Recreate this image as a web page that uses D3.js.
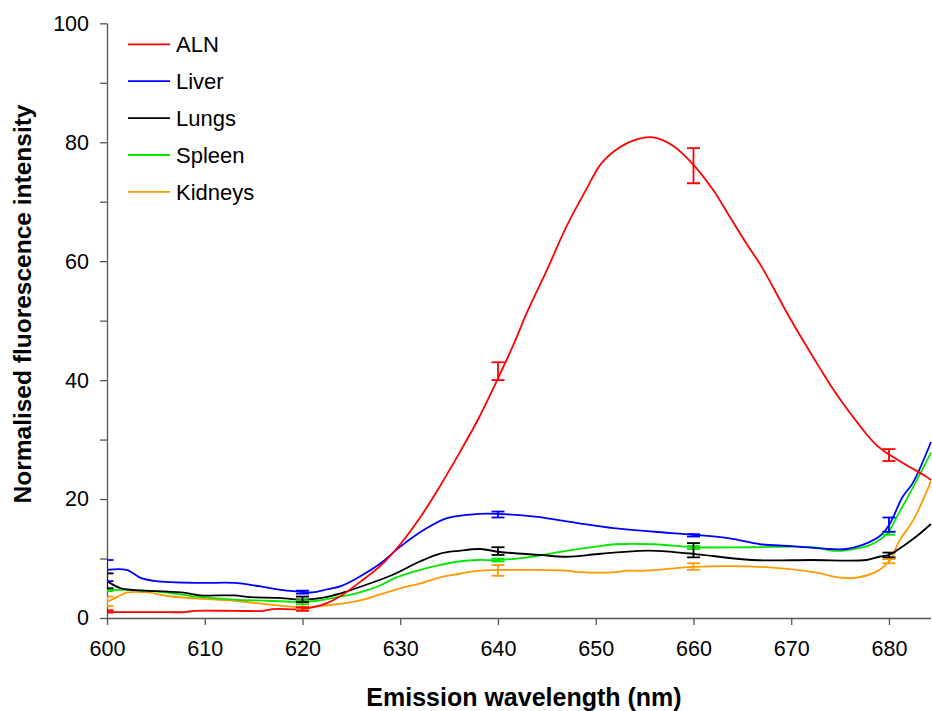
<!DOCTYPE html>
<html><head><meta charset="utf-8">
<script src="https://cdn.jsdelivr.net/npm/d3@7"></script>
<style>body{margin:0;background:#fff}svg{display:block}</style>
</head><body>
<svg id="chart" width="932" height="711"></svg>
<script>
const seriesNames = ["ALN","Liver","Lungs","Spleen","Kidneys"];
const seriesColors = ["#ff0000","#0000ff","#000000","#00e600","#ff9900"];
const xTicks = [600,610,620,630,640,650,660,670,680];
const yTicks = [0,20,40,60,80,100];

const alnData = [[600,1],[602,1],[605,1],[608,1],[609,1.2],[613,1.2],[616,1.2],[617,1.5],[620,1.5],[622,2.2],[624,3.8],[626,6.2],[628,8.8],[630,12.4],[632,16.8],[634,22],[636,27.6],[638,33.5],[640,40.3],[641.6,46],[643,51.5],[645,58.5],[647,65.8],[649,72],[650.6,76.5],[652.5,79.2],[654.2,80.5],[655.9,80.8],[657.9,79.4],[660,76.2],[662,72],[663.7,67.5],[665.4,63],[667,59],[669.5,51.5],[671.2,46.7],[672.9,42.1],[674.6,37.7],[676.7,33],[678.7,29.1],[680.1,27.4],[681.8,25.7],[683.8,23.8],[684.3,23.2]];
const liverData = [[600,8.1],[602,8.1],[603.5,6.7],[605,6.2],[609.6,5.9],[613,5.9],[615.7,5.3],[618,4.7],[620,4.4],[621,4.3],[622.5,4.8],[624,5.4],[626,7.1],[628,9.2],[630,12],[632.4,14.8],[634.8,16.8],[638,17.5],[640,17.5],[644,17],[648,16],[651.8,15.1],[656,14.5],[660,14],[663.7,13.4],[666.8,12.4],[670,12.1],[674,11.6],[675.6,11.6],[677.3,12.3],[679,13.7],[680,15.6],[681.4,20.4],[682.4,22.6],[684.3,29.6]];
const lungsData = [[600,6.2],[601.4,5],[602.8,4.7],[607.6,4.3],[609.6,3.8],[613,3.8],[614.7,3.5],[617.4,3.4],[620,3.1],[622,3.4],[624,4.2],[626,5.3],[629,7.1],[632,9.5],[634,10.8],[636,11.3],[638.2,11.6],[640.2,11.1],[644.3,10.6],[647,10.3],[650.5,10.8],[654.5,11.3],[656.2,11.3],[660,10.8],[666,9.75],[672,9.75],[677.7,9.75],[679,10.3],[680,10.6],[681.1,11.7],[682.8,13.7],[684.3,15.8]];
const spleenData = [[600,4.7],[602.8,4.7],[605,4.5],[609.6,3.5],[613,3.1],[616.4,2.9],[620,2.7],[621.5,2.9],[623.5,3.5],[625.6,4.2],[628,5.5],[629.4,6.7],[631.4,7.8],[634,8.9],[636,9.5],[638,9.75],[640,9.75],[643,10.2],[647,11.3],[650,12],[652,12.4],[656,12.4],[660,11.9],[666,11.9],[672.3,11.9],[674.3,11.3],[676.4,11.6],[678.1,12.3],[679.8,14.2],[680.8,17],[682.5,22.1],[684.3,27.8]];
const kidneysData = [[600,2.7],[601.1,3.6],[602.1,4.3],[604.2,4.3],[606.2,3.7],[609,3.3],[613,2.9],[617,2.2],[620,1.8],[621.2,1.9],[624,2.4],[626,3],[628,4],[630,5],[632,5.8],[634,6.8],[636,7.4],[638.2,7.95],[647,7.95],[648.4,7.7],[652,7.7],[653.2,7.95],[655,7.95],[660,8.6],[666.8,8.6],[672.3,7.7],[675,6.8],[676.7,6.8],[678.7,7.8],[680,9.5],[681.1,13.1],[682.5,16.5],[684.3,23]];

const errX = [600,620,640,660,680];
const alnErr = [[0.9,1.3],[1.2,1.8],[40,43],[73.1,79],[26.4,28.4]];
const liverErr = [[6.2,9.75],[4.1,4.6],[16.9,17.9],[13.7,14.1],[14.5,16.9]];
const lungsErr = [[5,7.5],[2.7,3.6],[10.6,11.9],[10.2,12.6],[10.2,11]];
const spleenErr = [[4.5,4.9],[2.3,3.0],[9.5,10],[11.6,12.1],[14,14.5]];
const kidneysErr = [[2.0,3.6],[1.35,2.6],[7.1,8.9],[8.1,9.2],[9.2,9.9]];

const allData = [alnData, liverData, lungsData, spleenData, kidneysData];
const allErr = [alnErr, liverErr, lungsErr, spleenErr, kidneysErr];

const svg = d3.select("#chart");
const mL = 107, mR = 931, mT = 23.3, mB = 618;
const x = d3.scaleLinear().domain([600, 684.3]).range([mL, mR]);
const y = d3.scaleLinear().domain([0, 100]).range([mB, mT]);
const FONT = "Liberation Sans, Arial, Helvetica, sans-serif";

svg.append("defs").append("clipPath").attr("id","clip")
  .append("rect").attr("x", mL).attr("y", mT - 5).attr("width", mR - mL + 1).attr("height", mB - mT + 5);

// axes
const axisColor = "#555";
const gx = svg.append("g").attr("transform", `translate(0,${mB})`)
  .call(d3.axisBottom(x).tickValues(xTicks).tickSize(7).tickSizeOuter(0).tickPadding(16));
gx.select(".domain").attr("d", `M${mL},0.5H${mR}`);
const gy = svg.append("g").attr("transform", `translate(${mL},0)`)
  .call(d3.axisLeft(y).tickValues(d3.range(0, 101, 10)).tickSize(7).tickSizeOuter(0).tickPadding(11)
    .tickFormat(d => yTicks.includes(d) ? d : ""));
[gx, gy].forEach(g => {
  g.selectAll(".domain").attr("stroke", axisColor).attr("stroke-width", 1.3);
  g.selectAll(".tick line").attr("stroke", axisColor).attr("stroke-width", 1.3);
  g.selectAll(".tick text").attr("fill", "#000").attr("font-family", FONT).attr("font-size", 21.5);
});

// lines
const line = d3.line().x(d => x(d[0])).y(d => y(d[1])).curve(d3.curveCatmullRom.alpha(0.5));
const plot = svg.append("g").attr("clip-path", "url(#clip)");
[4,3,2,1,0].forEach(i => {
  plot.append("path").datum(allData[i]).attr("fill","none")
    .attr("stroke", seriesColors[i]).attr("stroke-width", 1.8).attr("d", line);
});
// error bars
[4,3,2,1,0].forEach(i => {
  const g = plot.append("g").attr("stroke", seriesColors[i]).attr("stroke-width", 1.8).attr("fill","none");
  errX.forEach((xv, j) => {
    const [lo, hi] = allErr[i][j];
    const cx = x(xv), w = 6.5;
    g.append("line").attr("x1", cx).attr("x2", cx).attr("y1", y(lo)).attr("y2", y(hi));
    g.append("line").attr("x1", cx - w).attr("x2", cx + w).attr("y1", y(lo)).attr("y2", y(lo));
    g.append("line").attr("x1", cx - w).attr("x2", cx + w).attr("y1", y(hi)).attr("y2", y(hi));
  });
});

// legend
const leg = svg.append("g");
seriesNames.forEach((n, i) => {
  const ly = 44.3 + i * 36.9;
  leg.append("line").attr("x1", 128).attr("x2", 170).attr("y1", ly).attr("y2", ly)
    .attr("stroke", seriesColors[i]).attr("stroke-width", 1.8);
  leg.append("text").attr("x", 176).attr("y", ly).attr("dy", "0.36em")
    .attr("font-family", FONT).attr("font-size", 22).text(n);
});

// titles
svg.append("text").attr("x", 524).attr("y", 706).attr("text-anchor", "middle")
  .attr("font-family", FONT).attr("font-weight", "bold").attr("font-size", 25)
  .text("Emission wavelength (nm)");
svg.append("text").attr("transform", "translate(31,304) rotate(-90)").attr("text-anchor", "middle")
  .attr("font-family", FONT).attr("font-weight", "bold").attr("font-size", 24.5)
  .text("Normalised fluorescence intensity");
</script>
</body></html>
